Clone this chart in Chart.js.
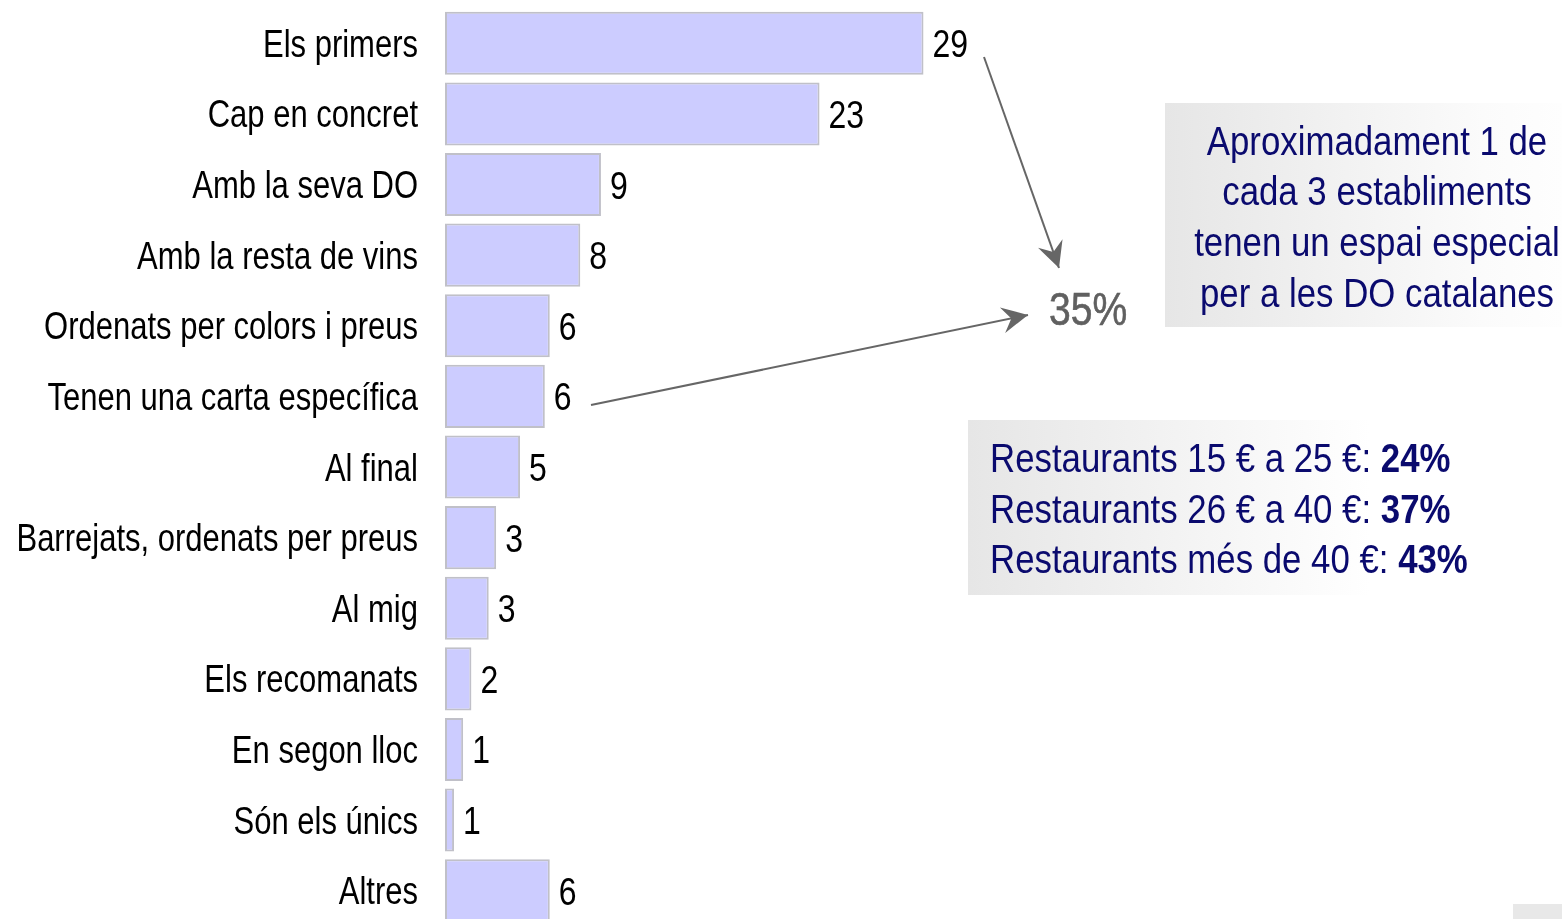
<!DOCTYPE html>
<html>
<head>
<meta charset="utf-8">
<script src="https://cdn.jsdelivr.net/npm/chart.js@4.4.0/dist/chart.umd.min.js"></script>
<style>
  html, body { margin: 0; padding: 0; width: 1562px; height: 919px; overflow: hidden; background: #fff; }
  body { position: relative; font-family: 'Liberation Sans', Arial, sans-serif; }
  #chart { position: absolute; left: 0; top: 0; }
  .box { position: absolute; color: #0a0a6e; font-size: 40px; }
  .box .txt { transform: scaleX(0.87); white-space: nowrap; }
  #box1 { left: 1165px; top: 103px; width: 424px; height: 224px; padding-top: 12.5px; box-sizing: border-box;
          text-align: center; line-height: 50.7px;
          background: linear-gradient(to right, #e6e6e6, #fbfbfb 75%, #ffffff); }
  #box1 .txt { transform-origin: 50% 0; }
  #box2 { left: 968px; top: 420px; width: 402px; height: 175px; padding: 13px 0 0 22px; box-sizing: border-box;
          line-height: 50.5px; background: linear-gradient(to right, #e6e6e6, #ffffff); }
  #box2 .txt { transform-origin: 0 0; }
  #pct { position: absolute; left: 1049px; top: 286px; font-size: 46px; line-height: 46px; color: #606060;
         transform: scaleX(0.85); transform-origin: 0 0; -webkit-text-stroke: 0.6px #606060; }
  #corner { position: absolute; left: 1513px; top: 904px; width: 49px; height: 15px; background: #e8e8e8; }
  svg { position: absolute; left: 0; top: 0; }
</style>
</head>
<body>
<canvas id="chart" width="1110" height="926"></canvas>
<svg width="1562" height="919">
  <defs>
    <marker id="head" markerUnits="userSpaceOnUse" markerWidth="30" markerHeight="30" refX="0" refY="0"
            viewBox="-28 -15 30 30" orient="auto">
      <path d="M0,0 L-26,-13 L-17,0 L-26,13 Z" fill="#666"/>
    </marker>
  </defs>
  <line x1="984" y1="57" x2="1059" y2="268" stroke="#666" stroke-width="2" marker-end="url(#head)"/>
  <line x1="591" y1="405" x2="1028" y2="315" stroke="#666" stroke-width="2" marker-end="url(#head)"/>
</svg>
<div id="pct">35%</div>
<div class="box" id="box1"><div class="txt">Aproximadament 1 de<br>cada 3 establiments<br>tenen un espai especial<br>per a les DO catalanes</div></div>
<div class="box" id="box2"><div class="txt">Restaurants 15 € a 25 €: <b>24%</b><br>Restaurants 26 € a 40 €: <b>37%</b><br>Restaurants més de 40 €: <b>43%</b></div></div>
<div id="corner"></div>
<script>
const categories = [
  'Els primers', 'Cap en concret', 'Amb la seva DO', 'Amb la resta de vins',
  'Ordenats per colors i preus', 'Tenen una carta específica', 'Al final',
  'Barrejats, ordenats per preus', 'Al mig', 'Els recomanats', 'En segon lloc',
  'Són els únics', 'Altres'
];
const values = [29, 22.7, 9.45, 8.2, 6.35, 6.05, 4.55, 3.1, 2.65, 1.6, 1.1, 0.55, 6.35];

const FONT = "'Liberation Sans', Arial, sans-serif";

// narrow text: Arial Narrow is not installed, so squeeze Liberation Sans
function narrowText(ctx, text, x, y, sx) {
  ctx.save();
  ctx.translate(x, y);
  ctx.scale(sx, 1);
  ctx.fillText(text, 0, 0);
  ctx.restore();
}

const textLabels = {
  id: 'textLabels',
  afterDatasetsDraw(chart) {
    const ctx = chart.ctx;
    const yScale = chart.scales.y;
    ctx.save();
    ctx.fillStyle = '#000';
    ctx.textBaseline = 'alphabetic';

    ctx.font = '39px ' + FONT;
    ctx.textAlign = 'right';
    categories.forEach((c, i) => {
      narrowText(ctx, c, 418, yScale.getPixelForValue(i) + 13.5, 0.795);
    });

    ctx.textAlign = 'left';
    chart.getDatasetMeta(0).data.forEach((bar, i) => {
      narrowText(ctx, String(Math.round(values[i])), bar.x + 9, bar.y + 14, 0.82);
    });
    ctx.restore();
  }
};

new Chart(document.getElementById('chart'), {
  type: 'bar',
  data: {
    labels: categories,
    datasets: [{
      data: values,
      backgroundColor: '#ccccff',
      borderColor: '#c0c0c8',
      borderWidth: 2,
      borderSkipped: false,
      barPercentage: 0.893,
      categoryPercentage: 1
    }]
  },
  options: {
    indexAxis: 'y',
    responsive: false,
    animation: false,
    layout: { padding: { top: 8, right: 5, bottom: 0, left: 0 } },
    plugins: { legend: { display: false }, tooltip: { enabled: false } },
    scales: {
      x: { display: false, min: 0, max: 40 },
      y: {
        grid: { display: false, drawTicks: false },
        border: { display: false },
        ticks: { display: false },
        afterFit(scale) { scale.width = 445; }
      }
    }
  },
  plugins: [textLabels]
});
</script>
</body>
</html>
